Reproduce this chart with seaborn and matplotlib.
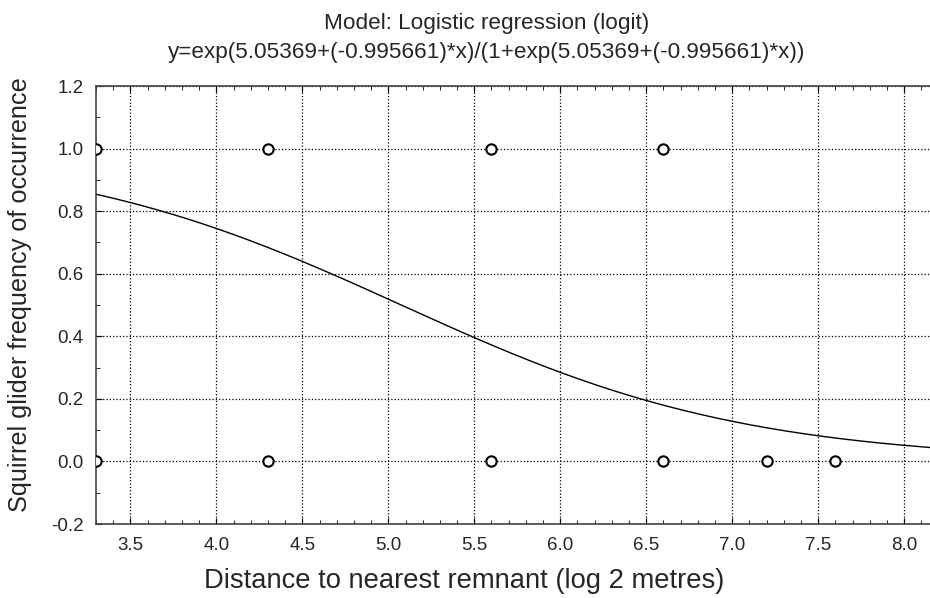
import numpy as np
import pandas as pd
import matplotlib
matplotlib.use("Agg")
import matplotlib.pyplot as plt
import seaborn as sns
from matplotlib.ticker import MultipleLocator, FormatStrFormatter

# observed sites: distance (log2 metres) and presence (1) / absence (0)
distance = [3.3, 3.3, 4.3, 4.3, 5.6, 5.6, 6.6, 6.6, 7.2, 7.6]
occurrence = [1, 0, 1, 0, 1, 0, 1, 0, 0, 0]

# fitted logit coefficients, as printed in the title
intercept = 5.05369
slope = -0.995661

sns.set_style("ticks")
plt.rcParams['font.family'] = ['Liberation Sans', 'DejaVu Sans']
plt.rcParams['axes.unicode_minus'] = False

fig = plt.figure(figsize=(9.3, 5.98), dpi=100)
ax = fig.add_axes([0.1032, 0.1237, 0.8968, 0.7324])

# model curve across the visible range
xs = np.linspace(3.3, 8.15, 300)
curve = pd.DataFrame({'x': xs,
                      'y': np.exp(intercept + slope * xs) / (1 + np.exp(intercept + slope * xs))})
sns.lineplot(data=curve, x='x', y='y', ax=ax, color='black', lw=1.0)

pts = pd.DataFrame({'x': distance, 'y': occurrence})
sns.scatterplot(data=pts, x='x', y='y', ax=ax, marker='o', s=55,
                facecolor='white', edgecolor='black', linewidth=1.5, zorder=5)

ax.set_xlim(3.3, 8.15)
ax.set_ylim(-0.2, 1.2)
ax.xaxis.set_major_locator(MultipleLocator(0.5))
ax.xaxis.set_minor_locator(MultipleLocator(0.1))
ax.yaxis.set_major_locator(MultipleLocator(0.2))
ax.yaxis.set_minor_locator(MultipleLocator(0.1))
ax.yaxis.set_major_formatter(FormatStrFormatter('%.1f'))
ax.xaxis.set_major_formatter(FormatStrFormatter('%.1f'))
ax.tick_params(which='both', direction='in', top=True, right=False, labelsize=13.5, color='black')
ax.tick_params(which='major', length=4, pad=9)
ax.tick_params(which='minor', length=3)
ax.grid(True, which='major', ls=':', color='black', lw=0.9)

for side in ['left', 'bottom', 'top']:
    ax.spines[side].set_color('#444444')
    ax.spines[side].set_linewidth(1.2)
ax.spines['right'].set_visible(False)

# labels and title are centred on the full image rather than the plot area
ax.set_xlabel('Distance to nearest remnant (log 2 metres)', fontsize=19.7, labelpad=8)
ax.xaxis.set_label_coords(0.441, -0.1)
ax.set_ylabel('Squirrel glider frequency of occurrence', fontsize=18.2, labelpad=12)
ax.yaxis.set_label_coords(-0.077, 0.523)
ax.set_title('Model: Logistic regression (logit)\n'
             'y=exp(5.05369+(-0.995661)*x)/(1+exp(5.05369+(-0.995661)*x))',
             fontsize=16.2, linespacing=1.5, pad=20, x=0.468)

fig.savefig('out.png', dpi=100)
